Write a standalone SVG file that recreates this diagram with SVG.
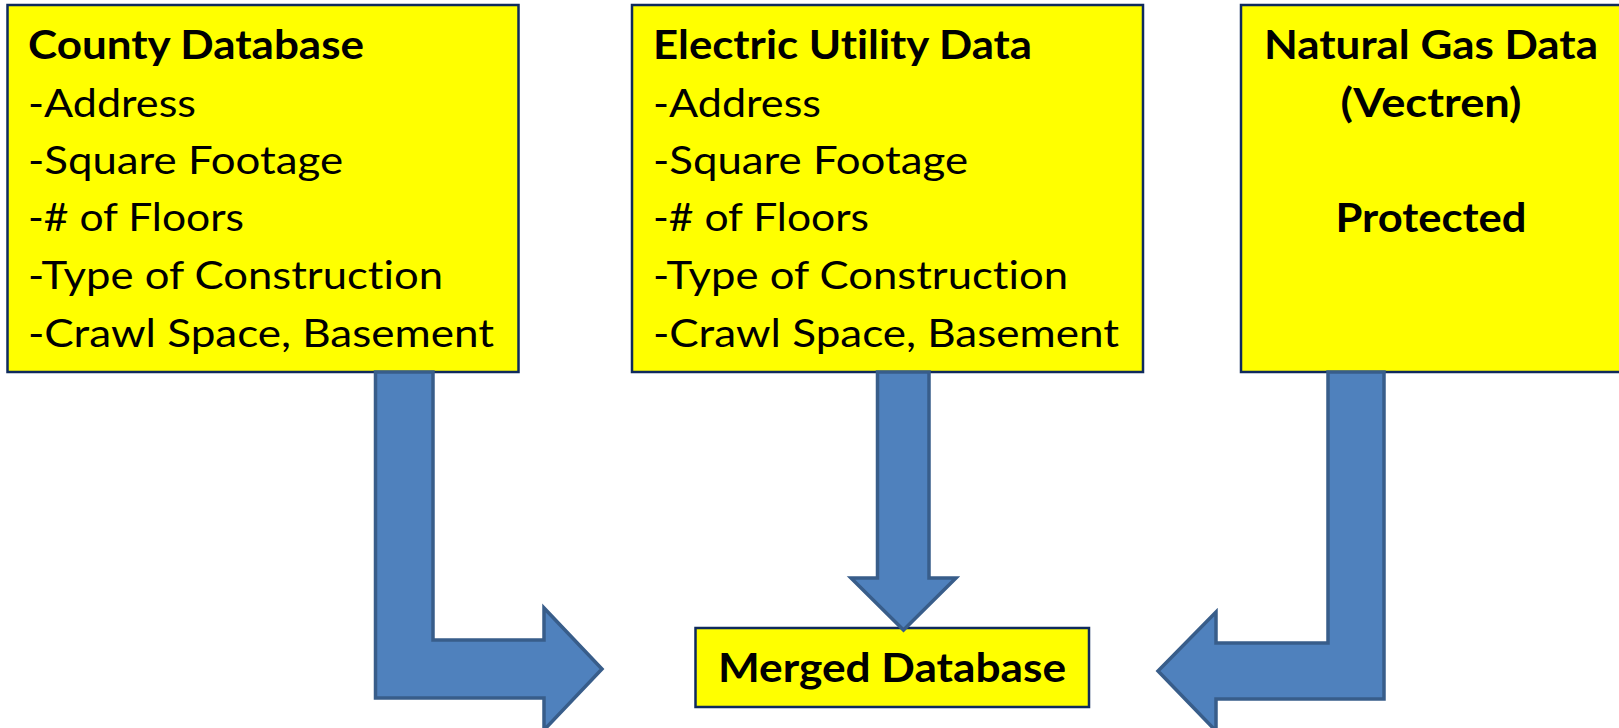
<svg xmlns="http://www.w3.org/2000/svg" width="1619" height="728" viewBox="0 0 1619 728">
<style>
.box{fill:#FFFF00;stroke:#0F2A5C;stroke-width:2.5}
.arrow{fill:#4F81BD;stroke:#385D8A;stroke-width:3.5;stroke-linejoin:miter}
text{font-family:Lato,"Open Sans","Liberation Sans",sans-serif;font-size:38px;fill:#000;font-variant-ligatures:none;font-feature-settings:"liga" 0,"clig" 0}
.b{font-weight:bold;font-size:40px}
.c{text-anchor:middle}
</style>
<rect width="1619" height="728" fill="#FFFFFF"/>
<g id="county">
<rect class="box" x="7.5" y="5" width="511" height="367"/>
<text class="b" x="28" y="59" textLength="336" lengthAdjust="spacingAndGlyphs">County Database</text>
<text x="28" y="117" textLength="168" lengthAdjust="spacingAndGlyphs">-Address</text>
<text x="28" y="174" textLength="315" lengthAdjust="spacingAndGlyphs">-Square Footage</text>
<text x="28" y="231" textLength="216" lengthAdjust="spacingAndGlyphs">-# of Floors</text>
<text x="28" y="289" textLength="415" lengthAdjust="spacingAndGlyphs">-Type of Construction</text>
<text x="28" y="347" textLength="466" lengthAdjust="spacingAndGlyphs">-Crawl Space, Basement</text>
</g>
<g id="electric">
<rect class="box" x="632" y="5" width="511" height="367"/>
<text class="b" x="653" y="59" textLength="379" lengthAdjust="spacingAndGlyphs">Electric Utility Data</text>
<text x="653" y="117" textLength="168" lengthAdjust="spacingAndGlyphs">-Address</text>
<text x="653" y="174" textLength="315" lengthAdjust="spacingAndGlyphs">-Square Footage</text>
<text x="653" y="231" textLength="216" lengthAdjust="spacingAndGlyphs">-# of Floors</text>
<text x="653" y="289" textLength="415" lengthAdjust="spacingAndGlyphs">-Type of Construction</text>
<text x="653" y="347" textLength="466" lengthAdjust="spacingAndGlyphs">-Crawl Space, Basement</text>
</g>
<g id="gas">
<rect class="box" x="1241" y="5" width="385" height="367"/>
<text class="b c" x="1431" y="59" textLength="334" lengthAdjust="spacingAndGlyphs">Natural Gas Data</text>
<text class="b c" x="1431" y="117" textLength="181" lengthAdjust="spacingAndGlyphs">(Vectren)</text>
<text class="b c" x="1431" y="232" textLength="191" lengthAdjust="spacingAndGlyphs">Protected</text>
</g>
<g id="merged">
<rect class="box" x="695.5" y="628" width="393.5" height="79"/>
<text class="b c" x="892" y="682" textLength="348" lengthAdjust="spacingAndGlyphs">Merged Database</text>
</g>
<g id="connectors">
<polygon class="arrow" points="375.5,372 375.5,698 544,698 544,730 602,669 544,608 544,640 433,640 433,372"/>
<polygon class="arrow" points="877.5,372 877.5,578 851,578 903.5,630 956,578 929,578 929,372"/>
<polygon class="arrow" points="1384,372 1384,699 1216,699 1216,731 1158,671 1216,612 1216,643 1328,643 1328,372"/>
</g>
</svg>
